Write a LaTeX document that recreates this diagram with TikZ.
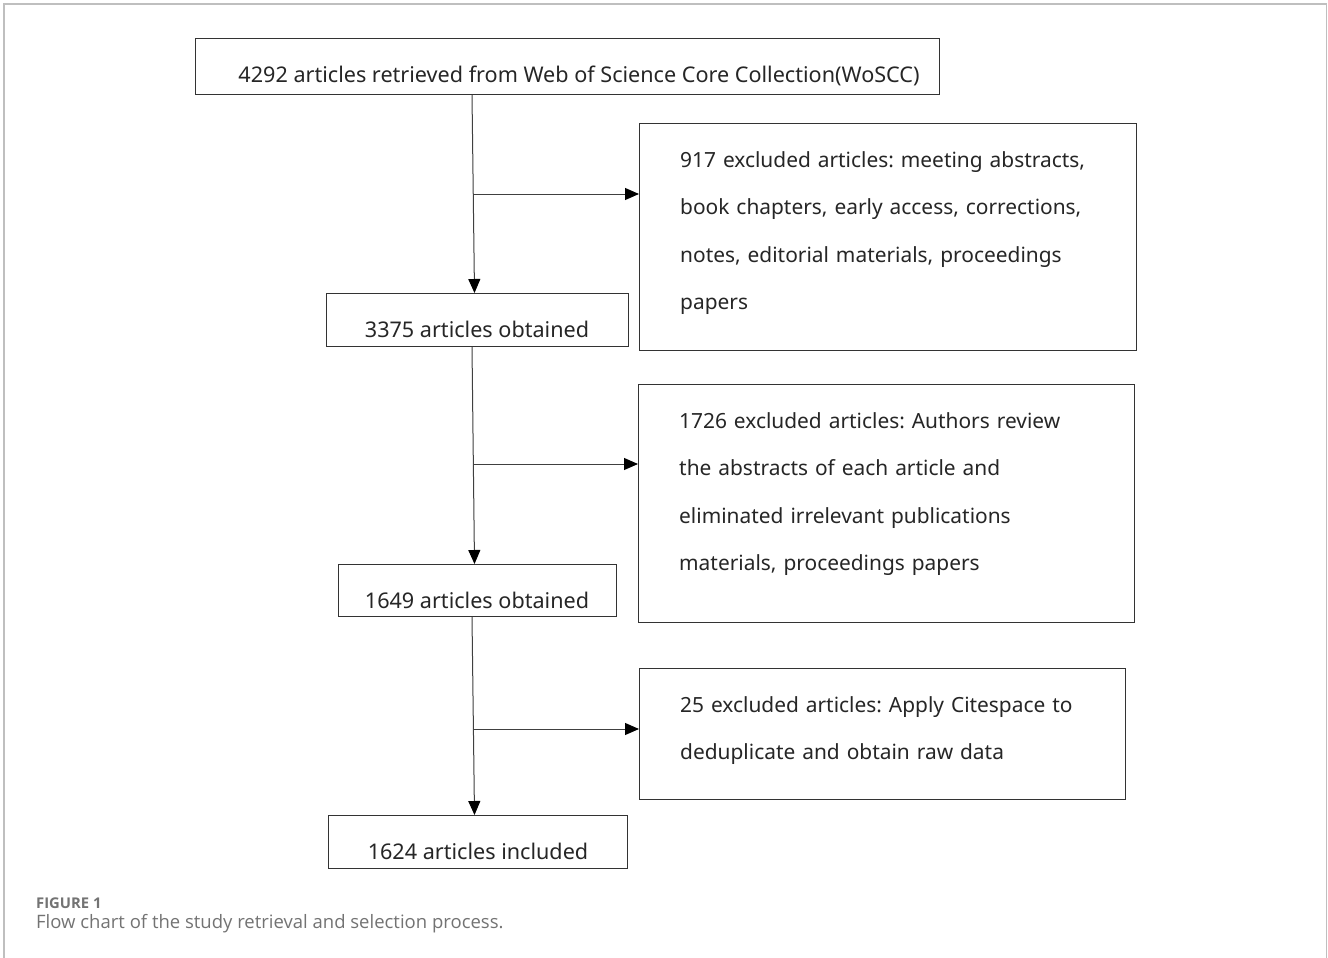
\documentclass[tikz,border=0pt]{standalone}
\usepackage{fontspec}
\setmainfont{Noto Sans}
\newfontfamily\capfont{Open Sans}
\usetikzlibrary{arrows.meta}
\frenchspacing
\begin{document}
\begin{tikzpicture}[x=1pt,y=-1pt,
  box/.style={draw=black!80,line width=1pt,inner sep=0pt,anchor=north west},
  lbl/.style={inner sep=0pt,font=\fontsize{21.6}{47.6}\selectfont,text=black!85},
  side/.style={lbl,anchor=base west,align=left,text width=450pt,font=\fontsize{20.9}{47.6}\selectfont},
  conn/.style={draw=black!75,line width=1pt,-{Triangle[length=14pt,width=12pt,color=black]}},
  captxt/.style={inner sep=0pt,anchor=base west,text=black!55}]
\useasboundingbox (0,0) rectangle (1328,958);
\fill[white] (0,0) rectangle (1328,958);
\draw[black!25,line width=1.2pt] (4,960) -- (4,4) -- (1326.5,4) -- (1326.5,960);
% boxes
\node[box,minimum width=744pt,minimum height=56pt] (b1) at (195,38) {};
\node[box,minimum width=497pt,minimum height=227pt] (r1) at (639,123) {};
\node[box,minimum width=302pt,minimum height=53pt] (b2) at (326,293) {};
\node[box,minimum width=496pt,minimum height=238pt] (r2) at (638,384) {};
\node[box,minimum width=278pt,minimum height=52pt] (b3) at (338,564) {};
\node[box,minimum width=486pt,minimum height=131pt] (r3) at (639,668) {};
\node[box,minimum width=299pt,minimum height=53pt] (b4) at (328,815) {};
% texts
\node[lbl,anchor=base] (t1) at (579,82) {4292 articles retrieved from Web of Science Core Collection(WoSCC)};
\node[side] (tr1) at (680,167) {917 excluded articles: meeting abstracts,\\book chapters, early access, corrections,\\notes, editorial materials, proceedings\\papers};
\node[lbl,anchor=base] (t2) at (477,337) {3375 articles obtained};
\node[side] (tr2) at (679,428) {1726 excluded articles: Authors review\\the abstracts of each article and\\eliminated irrelevant publications\\materials, proceedings papers};
\node[lbl,anchor=base] (t3) at (477,608) {1649 articles obtained};
\node[side] (tr3) at (680,712) {25 excluded articles: Apply Citespace to\\deduplicate and obtain raw data};
\node[lbl,anchor=base] (t4) at (478,859) {1624 articles included};
% connectors
\coordinate (xa) at (472,0);
\coordinate (xb) at (474.5,0);
\coordinate (s1) at (473,194);
\coordinate (s2) at (473,464);
\coordinate (s3) at (473,729);
\draw[conn] (b1.south -| xa) -- (b2.north -| xb);
\draw[conn] (s1) -- (s1 -| r1.west);
\draw[conn] (b2.south -| xa) -- (b3.north -| xb);
\draw[conn] (s2) -- (s2 -| r2.west);
\draw[conn] (b3.south -| xa) -- (b4.north -| xb);
\draw[conn] (s3) -- (s3 -| r3.west);
% caption
\node[captxt,font={\capfont\bfseries\fontsize{14.8}{17}\selectfont}] (c1) at (36,908) {FIGURE 1};
\node[captxt,font={\capfont\fontsize{18.5}{21}\selectfont}] (c2) at (36,928) {Flow chart of the study retrieval and selection process.};
\end{tikzpicture}
\end{document}
